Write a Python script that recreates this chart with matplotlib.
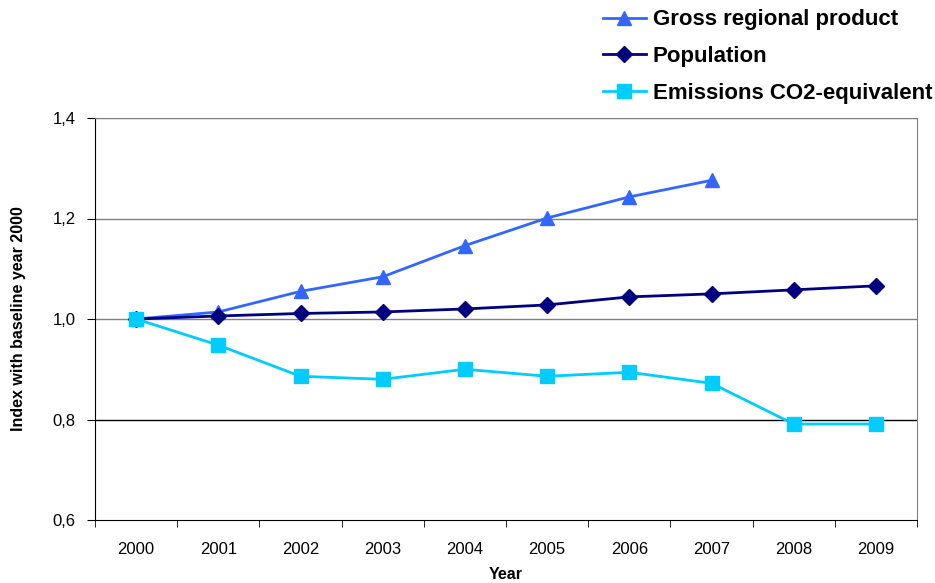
import numpy as np
import matplotlib
matplotlib.use("Agg")
import matplotlib.pyplot as plt
from matplotlib.ticker import FixedLocator, FuncFormatter

plt.rcParams['font.family'] = ['Liberation Sans', 'DejaVu Sans']

years = ["2000", "2001", "2002", "2003", "2004", "2005", "2006", "2007", "2008", "2009"]
gross_regional_product = [1.0, 1.014, 1.055, 1.084, 1.146, 1.201, 1.243, 1.276]
population = [1.0, 1.006, 1.011, 1.014, 1.020, 1.028, 1.044, 1.050, 1.058, 1.066]
emissions = [1.0, 0.948, 0.886, 0.880, 0.900, 0.886, 0.894, 0.872, 0.791, 0.791]

y_ticks = [0.6, 0.8, 1.0, 1.2, 1.4]

fig = plt.figure(figsize=(9.35, 5.83), dpi=100)
ax = fig.add_axes([95 / 935, 63 / 583, 822 / 935, 402 / 583])

x = np.arange(len(years))

# horizontal gridlines
for yv in y_ticks[1:]:
    col = "black" if yv == 0.8 else "#808080"
    ax.axhline(yv, color=col, linewidth=1.0, zorder=0)

l1, = ax.plot(x[:len(gross_regional_product)], gross_regional_product, color="#3366FF",
              linewidth=2, marker="^", markersize=10, label="Gross regional product", zorder=3)
l2, = ax.plot(x, population, color="#000080", linewidth=2, marker="D", markersize=8,
              label="Population", zorder=4)
l3, = ax.plot(x, emissions, color="#00CCFF", linewidth=2, marker="s", markersize=10,
              label="Emissions CO2-equivalent", zorder=5)

ax.set_xlim(-0.5, len(years) - 0.5)
ax.set_ylim(0.6, 1.4)

ax.set_xticks(x)
ax.set_xticklabels(years, fontsize=12)
ax.tick_params(axis="x", which="major", length=0, pad=16)
ax.xaxis.set_minor_locator(FixedLocator(np.arange(-0.5, len(years), 1.0)))
ax.tick_params(axis="x", which="minor", length=5, direction="out")

ax.set_yticks(y_ticks)
ax.yaxis.set_major_formatter(FuncFormatter(lambda v, p: f"{v:.1f}".replace(".", ",")))
ax.tick_params(axis="y", length=6, direction="out", labelsize=12, pad=8)

for s in ["top", "right"]:
    ax.spines[s].set_color("#808080")
ax.spines["left"].set_color("black")
ax.spines["bottom"].set_color("black")

ax.set_xlabel("Year", fontsize=11.5, fontweight="bold", labelpad=7)
ax.set_ylabel("Index with baseline year 2000", fontsize=11.5, fontweight="bold", labelpad=19)

fig.legend(handles=[l1, l2, l3], loc="upper right", bbox_to_anchor=(1.0064, 1 - 0.5 / 583),
           frameon=False, prop={"size": 16, "weight": "bold"}, handlelength=1.95,
           handletextpad=0.3, labelspacing=0.7, borderaxespad=0.0)

fig.savefig("out.png", dpi=100)
